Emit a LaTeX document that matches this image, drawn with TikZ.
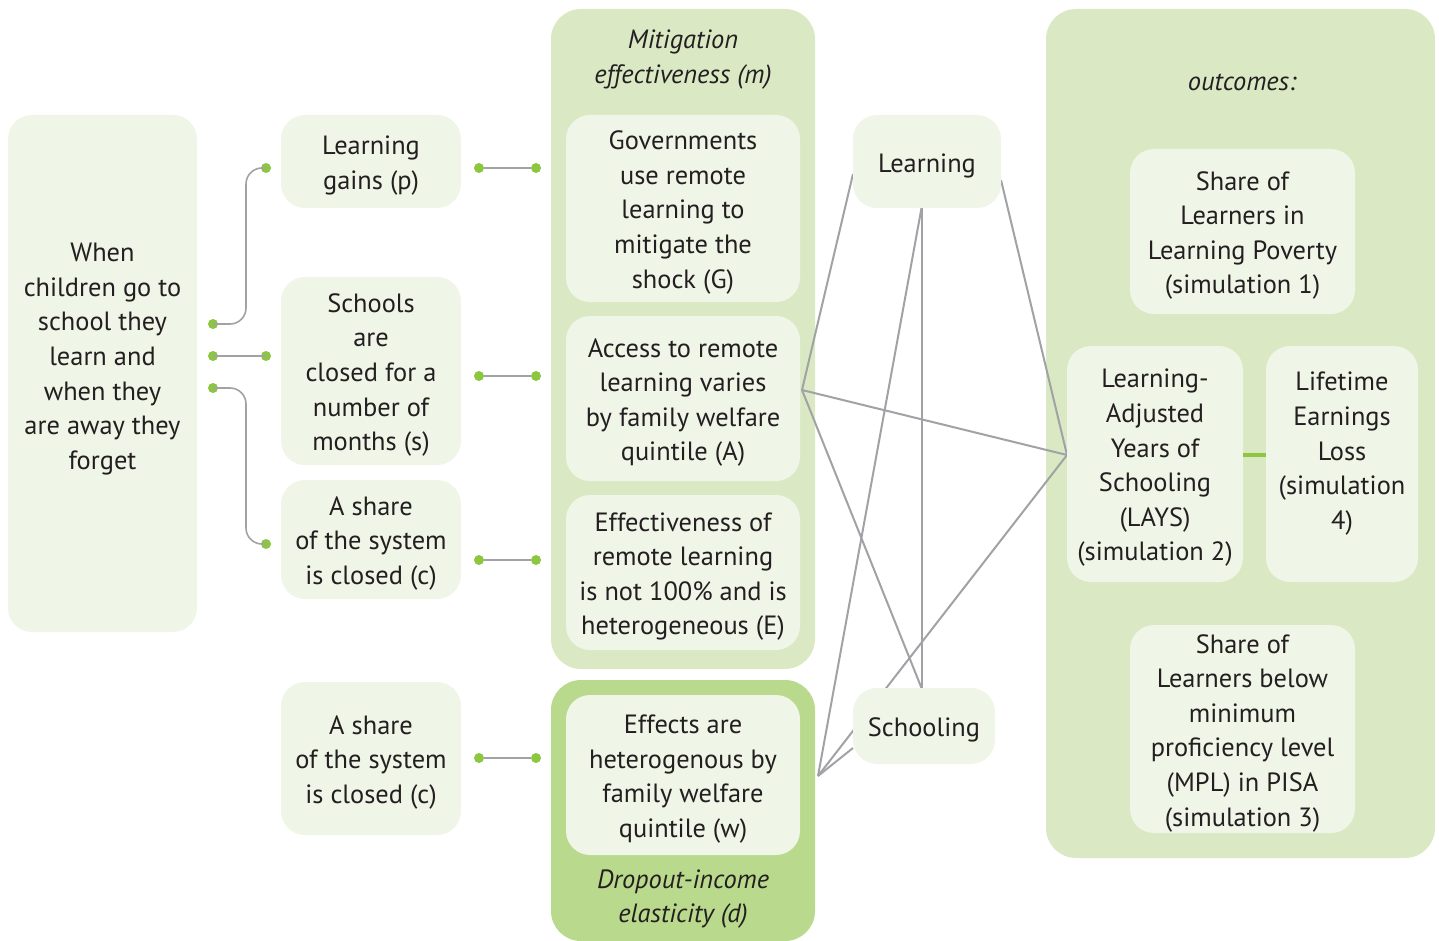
\documentclass[tikz,border=0pt]{standalone}
\usepackage{fontspec}
\setmainfont{PT Sans}
\definecolor{boxc}{RGB}{239,245,231}
\definecolor{panelc}{RGB}{218,233,196}
\definecolor{darkpanel}{RGB}{185,217,140}
\definecolor{dotc}{RGB}{141,198,63}
\definecolor{linec}{RGB}{160,162,165}
\definecolor{txt}{RGB}{35,31,32}
\tikzset{
  dim/.style 2 args={minimum width=#1*0.5pt, minimum height=#2*0.5pt},
  boxbase/.style={rounded corners=12pt, align=center, inner sep=0pt,
    text=txt, font=\fontsize{13.2}{17.3}\selectfont},
  box/.style={boxbase, preaction={fill=boxc, transform canvas={yshift=2pt}}, yshift=-2pt},
  plainbox/.style={boxbase, fill=boxc},
  panel/.style={fill=panelc, rounded corners=15pt, inner sep=0pt},
  dpanel/.style={fill=darkpanel, rounded corners=15pt, inner sep=0pt},
  ttl/.style={align=center, inner sep=0pt, text=txt, font=\fontsize{13.2}{17.3}\selectfont\itshape},
  dotpt/.style={circle, fill=dotc, inner sep=0pt, minimum size=5pt},
  link/.style={draw=linec, line width=0.8pt},
  rel/.style={draw=linec, line width=1pt},
  glink/.style={draw=dotc, line width=2pt},
}
\begin{document}
\begin{tikzpicture}[x=0.5pt, y=-0.5pt]
\useasboundingbox (0,0) rectangle (1439,941);
% panels
\node[panel, dim={264}{660}] (mitp) at (683,339) {};
\node[dpanel, dim={264}{261}] (dropp) at (683,810.5) {};
\node[panel, dim={389}{849}] (outp) at (1240.5,433.5) {};
\node[ttl] (mitt) at (683,59.5) {Mitigation\\effectiveness (m)};
\node[ttl] (dropt) at (683,899) {Dropout-income\\elasticity (d)};
\node[ttl] (outt) at (1242,82) {outcomes:};
% relation lines (behind boxes)
\coordinate (p1) at (802,390);
\coordinate (p2) at (818,776);
\coordinate (p3) at (1067,455);
\coordinate (lleft) at (853,174);
\coordinate (lright) at (1001,180);
\coordinate (lbot) at (921.5,208);
\coordinate (stop) at (921.5,688);
\coordinate (sleft) at (853,748);
\draw[rel] (p1) -- (lleft);
\draw[rel] (p1) -- (p3);
\draw[rel] (p1) -- (stop);
\draw[rel] (lbot) -- (stop);
\draw[rel] (lbot) -- (p2);
\draw[rel] (lright) -- (p3);
\draw[rel] (p3) -- (p2);
\draw[rel] (p2) -- (sleft);
% left column
\node[plainbox, dim={189}{517}] (when) at (102.5,373.5) {When\\children go to\\school they\\learn and\\when they\\are away they\\forget\\\mbox{}};
\node[box, dim={180}{93}] (gains) at (371,161.5) {Learning\\gains (p)};
\node[box, dim={180}{188}] (months) at (371,371) {Schools\\are\\closed for a\\number of\\months (s)};
\node[box, dim={180}{119}] (share1) at (371,539.5) {A share\\of the system\\is closed (c)};
\node[box, dim={180}{153}] (share2) at (371,758.5) {A share\\of the system\\is closed (c)};
% mitigation boxes
\node[box, dim={234}{187}] (gov) at (683,208.5) {Governments\\use remote\\learning to\\mitigate the\\shock (G)};
\node[box, dim={234}{165}] (access) at (683,398.5) {Access to remote\\learning varies\\by family welfare\\quintile (A)};
\node[box, dim={234}{155}] (effect) at (683,572.5) {Effectiveness of\\remote learning\\is not 100\% and is\\heterogeneous (E)};
\node[box, dim={234}{160}] (hetero) at (683,775) {Effects are\\heterogenous by\\family welfare\\quintile (w)};
% middle nodes
\node[box, dim={148}{93}] (learn) at (927,161.5) {Learning};
\node[box, dim={142}{76}] (school) at (924,726) {Schooling};
% outcomes
\node[box, dim={225}{165}] (poverty) at (1242.5,231.5) {Share of\\Learners in\\Learning Poverty\\(simulation 1)};
\node[box, dim={176}{236}] (lays) at (1155,464) {Learning-\\Adjusted\\Years of\\Schooling\\(LAYS)\\(simulation 2)};
\node[box, dim={152}{236}] (life) at (1342,464) {Lifetime\\Earnings\\Loss\\(simulation\\4)\\\mbox{}};
\node[box, dim={225}{208}] (mpl) at (1242.5,729) {Share of\\Learners below\\minimum\\proficiency level\\(MPL) in PISA\\(simulation 3)};
\draw[glink] (lays.east |- 0,455) -- (life.west |- 0,455);
% left connectors
\node[dotpt] (a1) at (213,324) {};
\node[dotpt] (a2) at (213,356) {};
\node[dotpt] (a3) at (213,388) {};
\node[dotpt] (b1) at (266,168) {};
\node[dotpt] (b2) at (266,356) {};
\node[dotpt] (b3) at (266,544) {};
\draw[link, rounded corners=8pt] (a1.center) -- (246,324) -- (246,168) -- (b1.center);
\draw[link] (a2.center) -- (b2.center);
\draw[link, rounded corners=8pt] (a3.center) -- (246,388) -- (246,544) -- (b3.center);
% right-of-column connectors
\foreach \i/\y in {1/168,2/376,3/560,4/758}{
  \node[dotpt] (c\i) at (479,\y) {};
  \node[dotpt] (d\i) at (536,\y) {};
  \draw[link] (c\i) -- (d\i);
}
\end{tikzpicture}
\end{document}
